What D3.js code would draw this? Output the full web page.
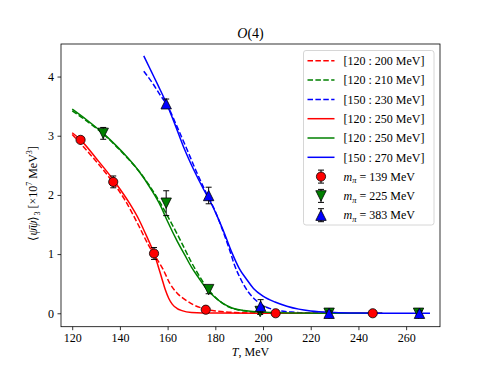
<!DOCTYPE html>
<html><head><meta charset="utf-8">
<script src="https://cdn.jsdelivr.net/npm/d3@7"></script>
<style>body{margin:0;background:#fff}svg{display:block}text{font-family:"Liberation Serif","Times New Roman",serif}</style>
</head><body><svg id="c" width="490" height="368"></svg>
<script>
// ---- data ----
const xTicks=[120,140,160,180,200,220,240,260];
const yTicks=[0,1,2,3,4];
const redT=[123.5,137.2,154.3,176,205.3,246];
const redV=[2.93,2.22,1.01,0.06,0.0,0.0];
const redE=[0.04,0.1,0.1,0.03,0.02,0.02];
const greenT=[133,159.4,177.2,198.8,227.7,265.2];
const greenV=[3.04,1.86,0.40,0.03,0.0,0.0];
const greenE=[0.1,0.21,0.07,0.05,0.03,0.03];
const blueT=[159.4,177.2,199,227.7,265.6];
const blueV=[3.54,1.99,0.12,0.0,0.0];
const blueE=[0.08,0.14,0.11,0.04,0.04];
const redDash=[[120,3.02],[125,2.8],[130,2.57],[136,2.27],[142,1.92],[148,1.47],[152,1.15],[155,0.95],[158,0.75],[161,0.5],[164,0.34],[167,0.24],[171,0.14],[175,0.08],[180,0.04],[190,0.01],[200,0.0]];
const redSolid=[[120,3.05],[123.5,2.93],[130,2.62],[136,2.32],[140,2.1],[144,1.86],[148,1.58],[151,1.32],[153,1.14],[154.5,0.99],[156,0.8],[157.5,0.6],[159,0.4],[160.5,0.25],[162,0.15],[164,0.08],[166,0.045],[170,0.015],[180,0.003],[200,0],[250,0]];
const greenDash=[[120,3.42],[126,3.25],[133,3.03],[138,2.84],[143,2.63],[148,2.4],[153,2.12],[157,1.86],[160,1.64],[164,1.34],[167,1.1],[170,0.86],[173,0.65],[176,0.46],[179,0.31],[182,0.2],[186,0.1],[190,0.055],[195,0.025],[200,0.01],[210,0.0]];
const greenSolid=[[120,3.45],[126,3.27],[133,3.04],[138,2.85],[143,2.64],[148,2.4],[153,2.1],[157,1.82],[160,1.55],[164,1.22],[167,1.0],[170,0.78],[173,0.6],[176,0.43],[179,0.3],[183,0.17],[187,0.09],[192,0.045],[198,0.02],[210,0.005],[230,0],[250,0]];
const blueDash=[[150,4.09],[154,3.87],[157,3.68],[160,3.5],[164,3.15],[168,2.78],[172,2.4],[176,2.05],[180,1.72],[184,1.3],[186,1.07],[188,0.82],[191,0.55],[194,0.35],[197,0.22],[201,0.11],[206,0.05],[212,0.02],[220,0.005],[230,0]];
const blueSolid=[[150,4.35],[153,4.1],[156,3.85],[159.5,3.55],[163,3.2],[167,2.78],[171,2.42],[175,2.1],[178,1.88],[181,1.62],[184,1.33],[187,1.02],[190,0.76],[193,0.58],[196,0.42],[200,0.29],[205,0.19],[210,0.12],[215,0.07],[220,0.04],[230,0.015],[240,0.005],[255,0],[270,0]];
const fitLabels=["[120 : 200 MeV]","[120 : 210 MeV]","[150 : 230 MeV]","[120 : 250 MeV]","[120 : 250 MeV]","[150 : 270 MeV]"];
const massLabels=["139","225","383"];

// ---- drawing ----
const svg=d3.select("#c");
const L=61,R=440,T=44,B=326.7;
const x=d3.scaleLinear().domain([115.3,274.2]).range([L,R]);
const y=d3.scaleLinear().domain([-0.227,4.55]).range([B,T]);
const C={r:"#ff0000",g:"#008000",b:"#0000ff"};
const line=d3.line().x(d=>x(d[0])).y(d=>y(d[1])).curve(d3.curveMonotoneX);
const dash="5.5,2.4";
const fits=[[redDash,C.r,true],[greenDash,C.g,true],[blueDash,C.b,true],[redSolid,C.r,false],[greenSolid,C.g,false],[blueSolid,C.b,false]];
const plot=svg.append("g");
plot.append("defs").append("clipPath").attr("id","clip").append("rect").attr("x",L).attr("y",T).attr("width",R-L).attr("height",B-T);
const pg=plot.append("g").attr("clip-path","url(#clip)");
fits.forEach(([d,c,ds])=>{
  pg.append("path").attr("d",line(d)).attr("fill","none").attr("stroke",c).attr("stroke-width",1.5).attr("stroke-dasharray",ds?dash:null);
});
function marker(g,type,cx,cy,color){
  const s=5.2;
  if(type==="o") g.append("circle").attr("cx",cx).attr("cy",cy).attr("r",4.6).attr("fill",color).attr("stroke","#000").attr("stroke-width",0.8);
  else if(type==="v") g.append("path").attr("d",`M${cx-s},${cy-s}L${cx+s},${cy-s}L${cx},${cy+s}Z`).attr("fill",color).attr("stroke","#000").attr("stroke-width",0.8);
  else g.append("path").attr("d",`M${cx-s},${cy+s}L${cx+s},${cy+s}L${cx},${cy-s}Z`).attr("fill",color).attr("stroke","#000").attr("stroke-width",0.8);
}
function errbar(g,cx,y1,y2){
  g.append("line").attr("x1",cx).attr("x2",cx).attr("y1",y1).attr("y2",y2).attr("stroke","#000").attr("stroke-width",1);
  [y1,y2].forEach(yy=>g.append("line").attr("x1",cx-3).attr("x2",cx+3).attr("y1",yy).attr("y2",yy).attr("stroke","#000").attr("stroke-width",1));
}
const sets=[[redT,redV,redE,"o",C.r],[greenT,greenV,greenE,"v",C.g],[blueT,blueV,blueE,"^",C.b]];
sets.forEach(([ts,vs,es,m,c])=>{
  ts.forEach((t,i)=>{
    errbar(pg,x(t),y(vs[i]-es[i]),y(vs[i]+es[i]));
    marker(pg,m,x(t),y(vs[i]),c);
  });
});
// axes
const gx=svg.append("g").attr("transform",`translate(0,${B})`).call(d3.axisBottom(x).tickValues(xTicks).tickFormat(d3.format("d")).tickSize(3.5).tickPadding(3.5));
const gy=svg.append("g").attr("transform",`translate(${L},0)`).call(d3.axisLeft(y).tickValues(yTicks).tickFormat(d3.format("d")).tickSize(3.5).tickPadding(3.5));
[gx,gy].forEach(g=>{g.attr("font-family",null).attr("font-size",null);g.select(".domain").remove();g.selectAll("text").attr("font-size",12).attr("fill","#000");g.selectAll("line").attr("stroke","#000").attr("stroke-width",0.8);});
svg.append("rect").attr("x",L).attr("y",T).attr("width",R-L).attr("height",B-T).attr("fill","none").attr("stroke","#000").attr("stroke-width",0.8);
// title
svg.append("text").attr("x",(L+R)/2).attr("y",38).attr("text-anchor","middle").attr("font-size",14)
  .html('<tspan font-style="italic">O</tspan>(4)');
// x label
svg.append("text").attr("x",(L+R)/2).attr("y",356).attr("text-anchor","middle").attr("font-size",12)
  .html('<tspan font-style="italic">T</tspan>,  MeV');
// y label
svg.append("text").attr("transform",`translate(37,${(T+B)/2+8}) rotate(-90)`).attr("text-anchor","middle").attr("font-size",12)
  .html('⟨<tspan font-style="italic">ψ̄ψ</tspan>⟩<tspan font-size="8" dy="3">3</tspan><tspan dy="-3"> [×10</tspan><tspan font-size="8" dy="-5">7</tspan><tspan dy="5"> MeV</tspan><tspan font-size="8" dy="-5">3</tspan><tspan dy="5">]</tspan>');
// legend
const lg=svg.append("g");
lg.append("rect").attr("x",303.5).attr("y",50.5).attr("width",130.5).attr("height",174.5).attr("rx",2.5).attr("fill","#fff").attr("fill-opacity",0.8).attr("stroke","#cccccc").attr("stroke-width",0.8);
const ly0=60.8,ldy=19.3;
fits.forEach(([d,c,ds],i)=>{
  const yy=ly0+i*ldy;
  lg.append("line").attr("x1",307.5).attr("x2",334.5).attr("y1",yy).attr("y2",yy).attr("stroke",c).attr("stroke-width",1.5).attr("stroke-dasharray",ds?dash:null);
  lg.append("text").attr("x",343.5).attr("y",yy+4.2).attr("font-size",12).text(fitLabels[i]);
});
sets.forEach(([ts,vs,es,m,c],i)=>{
  const yy=ly0+(6+i)*ldy;
  errbar(lg,321,yy-6.5,yy+6.5);
  marker(lg,m,321,yy,c);
  lg.append("text").attr("x",343.5).attr("y",yy+4.2).attr("font-size",12)
    .html('<tspan font-style="italic">m</tspan><tspan font-style="italic" font-size="8.5" dy="2.5">π</tspan><tspan dy="-2.5"> = '+massLabels[i]+' MeV</tspan>');
});
</script></body></html>
